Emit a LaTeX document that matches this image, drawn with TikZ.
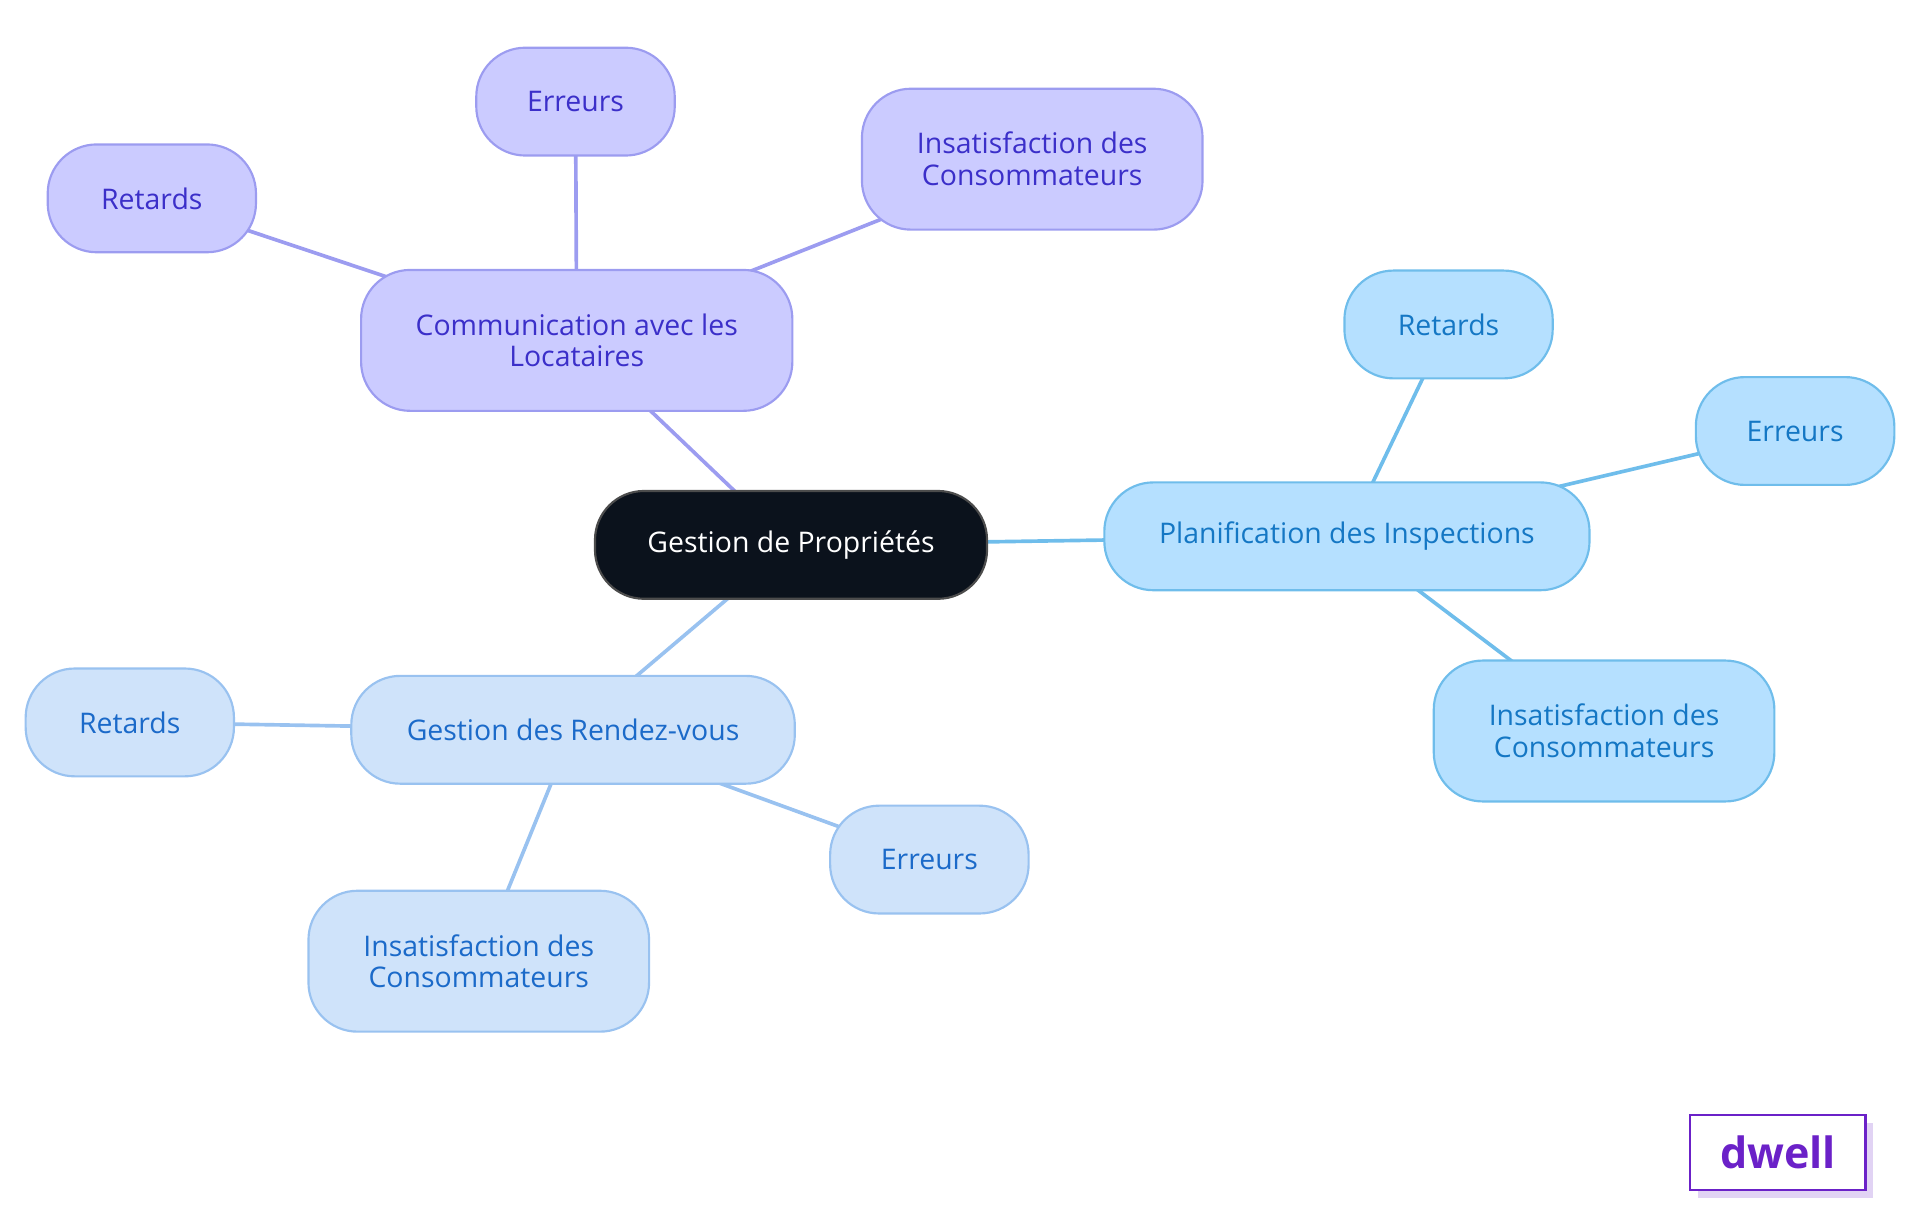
\documentclass[tikz,border=0pt]{standalone}
\usepackage{fontspec}
\setmainfont{Open Sans}
\usetikzlibrary{backgrounds}
\definecolor{rootfill}{HTML}{0B121C}
\definecolor{lavfill}{HTML}{CBCBFF}
\definecolor{lavline}{HTML}{9C9CF0}
\definecolor{lavtext}{HTML}{3B2FC9}
\definecolor{skyfill}{HTML}{B5E0FF}
\definecolor{skyline}{HTML}{6FBDEB}
\definecolor{skytext}{HTML}{1477C4}
\definecolor{palefill}{HTML}{CFE3FA}
\definecolor{paleline}{HTML}{99C2F0}
\definecolor{paletext}{HTML}{1B6AC9}
\definecolor{dwellpurple}{HTML}{6B21C8}
\tikzset{
  box/.style={rounded corners=0.4cm, align=center, inner sep=0pt,
    font=\fontsize{6.6}{7.4}\selectfont, line width=0.5pt},
  lav/.style={box, fill=lavfill, draw=lavline, text=lavtext},
  sky/.style={box, fill=skyfill, draw=skyline, text=skytext},
  pale/.style={box, fill=palefill, draw=paleline, text=paletext},
  link/.style={line width=0.85pt}
}
\begin{document}
\begin{tikzpicture}[x=0.01cm,y=-0.01cm]
   \useasboundingbox (0,0) rectangle (1568,992);
   \node [box, fill=rootfill, draw=black!70, text=white, minimum width=3.2cm, minimum height=0.88cm] (root) at (646,445) {Gestion de Propriétés};
   \node [lav, minimum width=3.52cm, minimum height=1.15cm] (comm) at (471,278) {Communication avec les\\Locataires};
   \node [lav, minimum width=1.7cm, minimum height=0.88cm] (commret) at (124,162) {Retards};
   \node [lav, minimum width=1.62cm, minimum height=0.88cm] (commerr) at (470,83) {Erreurs};
   \node [lav, minimum width=2.78cm, minimum height=1.15cm] (comminsat) at (843,130) {Insatisfaction des\\Consommateurs};
   \node [sky, minimum width=3.96cm, minimum height=0.88cm] (plan) at (1100,438) {Planification des Inspections};
   \node [sky, minimum width=1.7cm, minimum height=0.88cm] (planret) at (1183,265) {Retards};
   \node [sky, minimum width=1.62cm, minimum height=0.88cm] (planerr) at (1466,352) {Erreurs};
   \node [sky, minimum width=2.78cm, minimum height=1.15cm] (planinsat) at (1310,597) {Insatisfaction des\\Consommateurs};
   \node [pale, minimum width=3.62cm, minimum height=0.88cm] (rdv) at (468,596) {Gestion des Rendez-vous};
   \node [pale, minimum width=1.7cm, minimum height=0.88cm] (rdvret) at (106,590) {Retards};
   \node [pale, minimum width=1.62cm, minimum height=0.88cm] (rdverr) at (759,702) {Erreurs};
   \node [pale, minimum width=2.78cm, minimum height=1.15cm] (rdvinsat) at (391,785) {Insatisfaction des\\Consommateurs};
   \begin{scope}[on background layer]
     \draw [link, lavline] (root.center) -- (comm.center);
     \draw [link, lavline] (comm.center) -- (commret.center);
     \draw [link, lavline] (comm.center) -- (commerr.center);
     \draw [link, lavline] (comm.center) -- (comminsat.center);
     \draw [link, skyline] (root.center) -- (plan.center);
     \draw [link, skyline] (plan.center) -- (planret.center);
     \draw [link, skyline] (plan.center) -- (planerr.center);
     \draw [link, skyline] (plan.center) -- (planinsat.center);
     \draw [link, paleline] (root.center) -- (rdv.center);
     \draw [link, paleline] (rdv.center) -- (rdvret.center);
     \draw [link, paleline] (rdv.center) -- (rdverr.center);
     \draw [link, paleline] (rdv.center) -- (rdvinsat.center);
   \end{scope}
   % logo
   \fill [dwellpurple!20] (1387,917) rectangle (1530,978);
   \node [draw=dwellpurple, fill=white, line width=0.5pt, minimum width=1.43cm, minimum height=0.61cm, inner sep=0pt, text=dwellpurple, font=\fontsize{10}{12}\selectfont\bfseries] (logo) at (1452,941) {dwell};
\end{tikzpicture}
\end{document}
